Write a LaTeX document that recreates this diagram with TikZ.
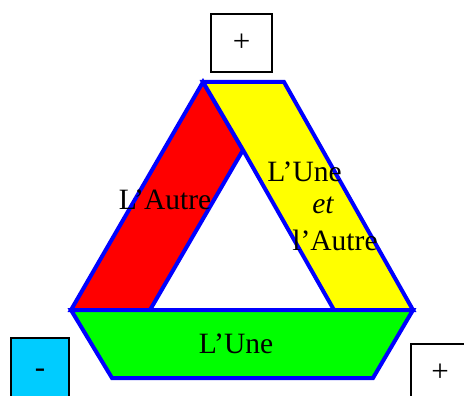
\documentclass[tikz,border=0pt]{standalone}
\usepackage{fontspec}
\setmainfont{Liberation Serif}
\definecolor{bandblue}{RGB}{0,0,255}
\definecolor{bandred}{RGB}{255,0,0}
\definecolor{bandyellow}{RGB}{255,255,0}
\definecolor{bandgreen}{RGB}{0,255,0}
\definecolor{boxcyan}{RGB}{0,204,255}
\begin{document}
\begin{tikzpicture}[x=1pt,y=-1pt,
  band/.style={draw=bandblue,line width=4pt,line join=miter},
  signbox/.style={draw=black,line width=1.6pt,fill=white},
  lbl/.style={font=\fontsize{29.5}{35}\selectfont,inner sep=0pt,anchor=base},
  sign/.style={font=\fontsize{31}{36}\selectfont,inner sep=0pt,anchor=center}]
\useasboundingbox (0,0) rectangle (464,396);
\clip (0,0) rectangle (464,396);
% coordinates
\coordinate (A) at (203,82);
\coordinate (B) at (284,82);
\coordinate (L) at (71,310);
\coordinate (R) at (413,310);
\coordinate (I) at (243,150);
\coordinate (R1) at (150,310);
\coordinate (Y1) at (334,310);
\coordinate (G1) at (373,378);
\coordinate (G2) at (112,378);
% bands
\filldraw[band,fill=bandred] (A) -- (L) -- (R1) -- (I) -- cycle;
\filldraw[band,fill=bandyellow] (A) -- (B) -- (R) -- (Y1) -- (I) -- cycle;
\filldraw[band,fill=bandgreen] (L) -- (R) -- (G1) -- (G2) -- cycle;
% boxes
\draw[signbox] (211,14) rectangle (272,72);
\node[sign] (ptop) at (241.5,43) {+};
\draw[signbox,fill=boxcyan] (11,338) rectangle (69,400);
\node[sign] (mleft) at (40,373) {-};
\draw[signbox] (411,344) rectangle (472,400);
\node[sign] (pright) at (440,373) {+};
% labels
\node[lbl] (autre) at (165,210) {L’Autre};
\node[lbl] (une) at (304.5,182) {L’Une};
\node[lbl] (et) at (323,213) {\itshape et};
\node[lbl] (lautre) at (335,250) {l’Autre};
\node[lbl] (unebas) at (236,353) {L’Une};
\end{tikzpicture}
\end{document}
